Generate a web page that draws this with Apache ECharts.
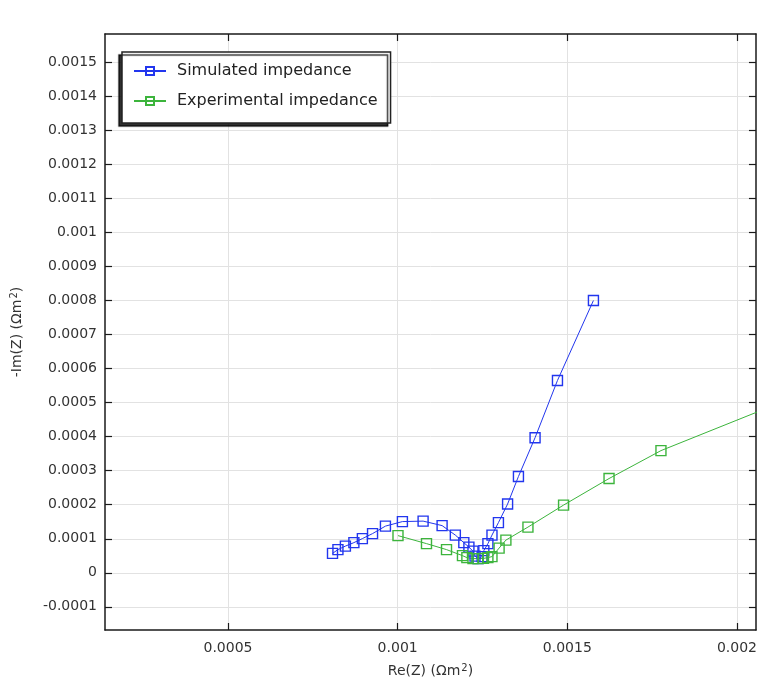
<!DOCTYPE html>
<html>
<head>
<meta charset="utf-8">
<script src="https://cdn.jsdelivr.net/npm/echarts@6/dist/echarts.min.js"></script>
<style>
  html, body { margin: 0; padding: 0; background: #fff; }
  #chart { width: 760px; height: 685px; }
</style>
</head>
<body>
<div id="chart"></div>
<script>
// Nyquist plot: Re(Z) vs -Im(Z), both in Ohm·m²
const seriesNames = ['Simulated impedance', 'Experimental impedance'];

const simulatedRe = [0.000808, 0.000824, 0.000846, 0.000871, 0.000896, 0.000926, 0.000964, 0.001014,
  0.001075, 0.001131, 0.001170, 0.001195, 0.001210, 0.001222, 0.001228, 0.001237, 0.001249,
  0.001254, 0.001266, 0.001278, 0.001297, 0.001324, 0.001356, 0.001405, 0.001471, 0.001577];
const simulatedIm = [0.0000570, 0.0000682, 0.0000785, 0.0000887, 0.0001005, 0.0001152, 0.0001372, 0.0001505,
  0.0001519, 0.0001387, 0.0001108, 0.0000887, 0.0000755, 0.0000638, 0.0000491, 0.0000417, 0.0000476,
  0.0000652, 0.0000858, 0.0001108, 0.0001475, 0.000202, 0.000283, 0.000397, 0.000565, 0.000800];

const experimentalRe = [0.001001, 0.001085, 0.001144, 0.001191, 0.001204, 0.001222, 0.001237, 0.001253,
  0.001266, 0.001278, 0.001299, 0.001319, 0.001384, 0.001489, 0.001623, 0.001776, 0.002141];
const experimentalIm = [0.0001093, 0.0000858, 0.0000682, 0.0000505, 0.0000447, 0.0000417, 0.0000417, 0.0000423,
  0.0000447, 0.0000476, 0.0000726, 0.0000961, 0.0001343, 0.000199, 0.000277, 0.000359, 0.000505];

const xTicks = [0.0005, 0.001, 0.0015, 0.002];
const yTicks = [-0.0001, 0, 0.0001, 0.0002, 0.0003, 0.0004, 0.0005, 0.0006, 0.0007, 0.0008,
  0.0009, 0.001, 0.0011, 0.0012, 0.0013, 0.0014, 0.0015];

const xRange = [0.0001375, 0.002056];
const yRange = [-0.000168, 0.001583];

const xTitle = 'Re(Z) (Ωm{sup|2})';
const yTitle = '-Im(Z) (Ωm{sup|2})';

const FONT = '"DejaVu Sans", sans-serif';
const AXIS_COLOR = '#1a1a1a';
const GRID_COLOR = '#e2e2e2';
const TEXT_COLOR = '#333';
const colors = ['#2236ee', '#3cb43c'];

const fmt = v => String(+Number(v).toPrecision(4));
const pairs = (xs, ys) => xs.map((x, i) => [x, ys[i]]);

const titleStyle = {
  fontFamily: FONT, fontSize: 14, color: TEXT_COLOR,
  rich: { sup: { fontFamily: FONT, fontSize: 10, color: TEXT_COLOR, verticalAlign: 'top', padding: [0, 0, 6, 1] } }
};

function axisBase(ticks, range, extra) {
  return Object.assign({
    type: 'value',
    min: range[0],
    max: range[1],
    axisLine: { show: true, onZero: false, lineStyle: { color: AXIS_COLOR, width: 1.5 } },
    axisTick: { show: true, inside: true, length: 7, customValues: ticks,
      lineStyle: { color: AXIS_COLOR, width: 1.2 } },
    axisLabel: { show: false },
    splitLine: { show: true, lineStyle: { color: GRID_COLOR, width: 1 } }
  }, extra || {});
}

const chart = echarts.init(document.getElementById('chart'), null, { renderer: 'canvas' });

chart.setOption({
  backgroundColor: '#fff',
  animation: false,
  grid: { left: 105, right: 4, top: 34, bottom: 55, containLabel: false },
  xAxis: [
    axisBase(xTicks, xRange, {
      position: 'bottom',
      name: xTitle,
      nameLocation: 'middle',
      nameGap: 33,
      nameTextStyle: titleStyle,
      axisLabel: { show: true, customValues: xTicks, formatter: fmt, margin: 11,
        fontFamily: FONT, fontSize: 14, color: TEXT_COLOR }
    }),
    axisBase(xTicks, xRange, { position: 'top', splitLine: { show: false } })
  ],
  yAxis: [
    axisBase(yTicks, yRange, {
      position: 'left',
      name: yTitle,
      nameLocation: 'middle',
      nameGap: 80,
      nameTextStyle: titleStyle,
      axisLabel: { show: true, customValues: yTicks, formatter: fmt, margin: 8,
        fontFamily: FONT, fontSize: 14, color: TEXT_COLOR }
    }),
    axisBase(yTicks, yRange, { position: 'right', splitLine: { show: false } })
  ],
  legend: {
    orient: 'vertical',
    left: 122,
    top: 52,
    itemWidth: 32,
    itemHeight: 10,
    itemGap: 14,
    padding: [11, 13, 14, 11],
    backgroundColor: '#fff',
    borderColor: '#222',
    borderWidth: 1.5,
    shadowColor: 'rgba(0,0,0,0.8)',
    shadowBlur: 1,
    shadowOffsetX: -3,
    shadowOffsetY: 3,
    textStyle: { fontFamily: FONT, fontSize: 16, color: '#222', padding: [0, 0, 0, 6] },
    data: seriesNames
  },
  series: [
    {
      name: seriesNames[0],
      type: 'line',
      data: pairs(simulatedRe, simulatedIm),
      symbol: 'rect',
      symbolSize: 10,
      showAllSymbol: true,
      clip: true,
      lineStyle: { color: colors[0], width: 1 },
      itemStyle: { color: 'rgba(255,255,255,0)', borderColor: colors[0], borderWidth: 1.4 }
    },
    {
      name: seriesNames[1],
      type: 'line',
      data: pairs(experimentalRe, experimentalIm),
      symbol: 'rect',
      symbolSize: 10,
      showAllSymbol: true,
      clip: true,
      lineStyle: { color: colors[1], width: 1 },
      itemStyle: { color: 'rgba(255,255,255,0)', borderColor: colors[1], borderWidth: 1.4 }
    }
  ]
});
</script>
</body>
</html>
